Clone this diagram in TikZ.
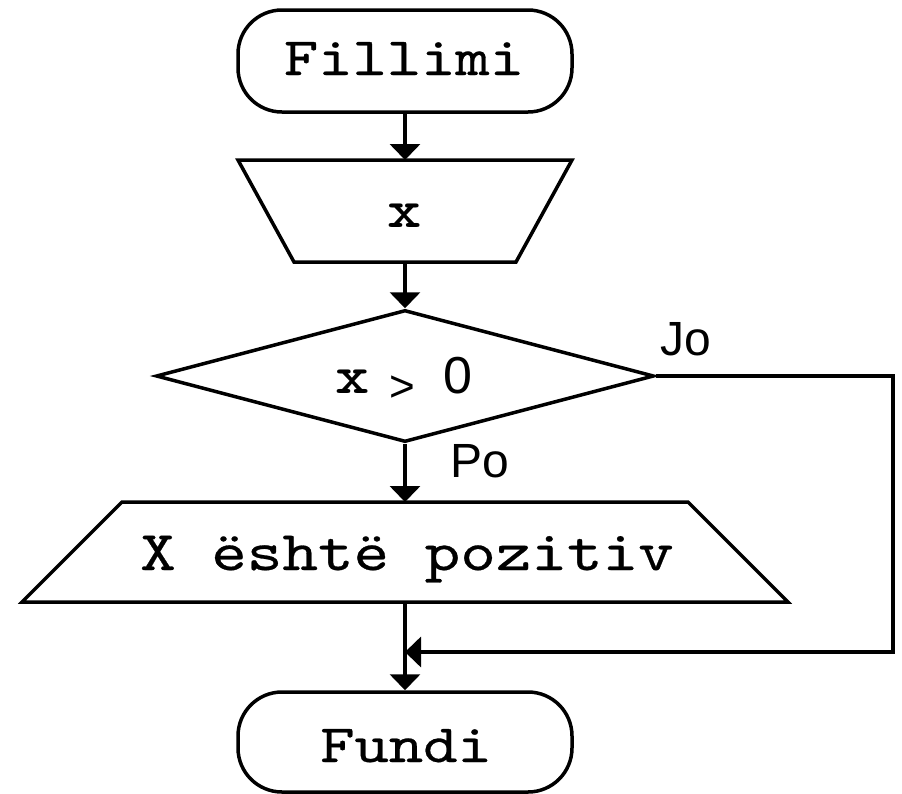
\documentclass[tikz,border=0pt]{standalone}
\usepackage{fontspec}
\usetikzlibrary{shapes.geometric,arrows.meta}
\newfontfamily\cour[FakeStretch=1.21,FakeBold=0.5]{lmmono10-regular.otf}
\newfontfamily\courb[FakeStretch=1.21]{lmmonolt10-bold.otf}
\newfontfamily\helv{Liberation Sans}
\tikzset{
  shp/.style={draw, line width=3.5pt, inner sep=0pt, line join=miter},
  term/.style={shp, rounded corners=44pt, minimum width=334pt, minimum height=100pt},
  box/.style={rectangle, inner sep=0pt, outer sep=0pt},
  edge/.style={line width=3.5pt, line join=miter},
  arr/.style={line width=3.5pt, -{Triangle[length=16pt,width=30pt]}},
  mono/.style={anchor=base, inner sep=0pt, font=\cour\fontsize{54}{60}\selectfont},
  sans/.style={anchor=base west, inner sep=0pt, font=\helv\fontsize{48}{54}\selectfont}
}
\begin{document}
\begin{tikzpicture}[x=1pt,y=-1pt]
\useasboundingbox (0,0) rectangle (902,793);
% shapes
\node[term, minimum height=102pt] (start) at (405,61) {};
\node[box, minimum width=334pt, minimum height=102pt] (in) at (405,211) {};
\draw[edge] (in.north west) -- (in.north east) -- ([xshift=-56pt]in.south east)
  -- ([xshift=56pt]in.south west) -- cycle;
\node[shp, diamond, aspect=3.77, minimum width=498pt, minimum height=132pt] (dec) at (405,376) {};
\node[box, minimum width=766pt, minimum height=100pt] (out) at (405,552) {};
\draw[edge] ([xshift=100pt]out.north west) -- ([xshift=-100pt]out.north east)
  -- (out.south east) -- (out.south west) -- cycle;
\node[term] (end) at (405,742) {};
% texts
\node[mono] (tstart) at (404,75) {Fillimi};
\node[mono, font=\courb\fontsize{54}{60}\selectfont] (tin) at (405,227) {x};
\node[anchor=base west, inner sep=0pt] (tdec) at (335,393)
  {{\courb\fontsize{54}{60}\selectfont x}\hspace{20pt}\raisebox{-8pt}{\helv\fontsize{44}{48}\selectfont >}\hspace{28pt}{\helv\fontsize{52}{56}\selectfont 0}};
\node[mono, font=\cour\fontsize{56}{60}\selectfont] (tout) at (407,570) {X është pozitiv};
\node[mono] (tend) at (406,762) {Fundi};
\node[sans] (jo) at (660,355) {Jo};
\node[sans] (po) at (450,477) {Po};
% connectors
\coordinate (rt) at (893,652);
\coordinate (jn) at (405,652);
\draw[arr] (start.south) -- (in.north);
\draw[arr] (in.south) -- (dec.north);
\draw[arr] (dec.south) -- (out.north);
\draw[arr] (out.south) -- (end.north);
\draw[arr, line join=miter] (dec.east) -| (rt) -- (jn);
\end{tikzpicture}
\end{document}
